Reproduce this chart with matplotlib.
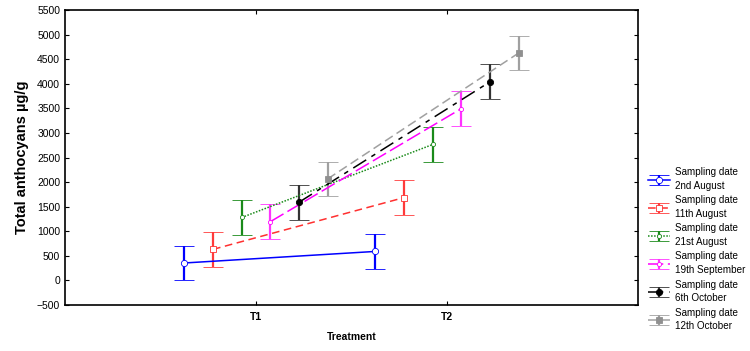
import matplotlib.pyplot as plt

plt.rcParams['font.family'] = ['Liberation Sans', 'DejaVu Sans']

# data (mean +/- error bar)
treatments = ['T1', 'T2']
labels = ['Sampling date\n2nd August', 'Sampling date\n11th August',
          'Sampling date\n21st August', 'Sampling date\n19th September',
          'Sampling date\n6th October', 'Sampling date\n12th October']
aug02 = [355, 590]
aug11 = [632, 1685]
aug21 = [1280, 2765]
sep19 = [1195, 3495]
oct06 = [1590, 4040]
oct12 = [2065, 4625]
err = [352, 355]

series = [aug02, aug11, aug21, sep19, oct06, oct12]
colors = ['#0000ff', '#ff3030', '#1a8a1a', '#ff00ff', '#000000', '#a0a0a0']
ecolors = ['#0000ff', '#ff3b3b', '#1a8a1a', '#ff33ff', '#333333', '#a0a0a0']
styles = ['-', (0, (5, 3)), (0, (1, 1)), (0, (10, 3)), (0, (10, 4, 3, 4)), (0, (6, 3))]
markers = ['o', 's', 'o', 'o', 'o', 's']
faces = ['white', 'white', 'white', 'white', 'black', '#909090']
msizes = [4.5, 4, 3, 3, 4.5, 4.5]
offsets = [-0.375, -0.225, -0.075, 0.075, 0.225, 0.375]

fig = plt.figure(figsize=(7.5, 3.51), dpi=100)
ax = fig.add_axes([0.0867, 0.131, 0.764, 0.8405])

x = [1, 2]
for i in range(6):
    xs = [v + offsets[i] for v in x]
    ax.errorbar(xs, series[i], yerr=err, color=colors[i], ecolor=ecolors[i],
                linestyle=styles[i], linewidth=1.1, marker=markers[i],
                markersize=msizes[i], markerfacecolor=faces[i],
                markeredgecolor=colors[i] if i != 5 else '#909090',
                markeredgewidth=0.6, elinewidth=1.6, capsize=7, capthick=1.6,
                label=labels[i])

ax.set_xlim(0, 3)
ax.set_ylim(-500, 5500)
ax.set_yticks(range(-500, 5501, 500))
ax.set_xticks(x)
ax.set_xticklabels(treatments, fontweight='bold')
ax.tick_params(direction='in', length=3, labelsize=7.5, top=True, right=True)
ax.tick_params(axis='x', pad=5)
for s in ax.spines.values():
    s.set_linewidth(1.2)

ax.set_xlabel('Treatment', fontsize=7.5, fontweight='bold', labelpad=7)
ax.set_ylabel('Total anthocyans µg/g', fontsize=10.5, fontweight='bold', labelpad=6)

leg = ax.legend(loc='upper left', bbox_to_anchor=(1.0, 0.5), frameon=False,
                fontsize=7.1, handlelength=2.2, handletextpad=0.5, labelspacing=0.45,
                borderaxespad=0.6)
for t in leg.get_texts():
    t.set_linespacing(1.45)

fig.savefig('out.png', dpi=100)
